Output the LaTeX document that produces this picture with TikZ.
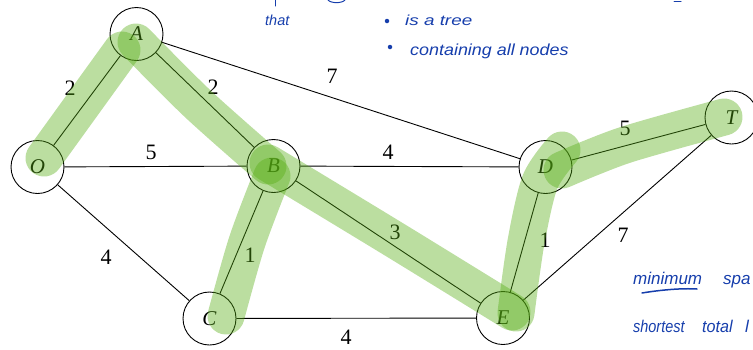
\documentclass[tikz,border=0pt]{standalone}
\usepackage{fontspec}
\setmainfont{Liberation Serif}
\newfontfamily\handfont{Liberation Sans}
\definecolor{hlgreen}{RGB}{85,172,18}
\definecolor{inkblue}{RGB}{22,62,172}
\tikzset{
  vert/.style={circle, draw, line width=0.9pt, minimum size=53pt, inner sep=0pt,
    font=\fontsize{21}{21}\selectfont\itshape},
  edge/.style={line width=0.9pt},
  wt/.style={font=\fontsize{22}{22}\selectfont, inner sep=0pt},
  hl/.style={line width=37pt, line cap=round, line join=round, draw=hlgreen, draw opacity=0.4},
  hand/.style={text=inkblue, font=\handfont\itshape, inner sep=0pt, anchor=base west},
  ink/.style={draw=inkblue, line width=1pt, line cap=round},
  inkdot/.style={circle, fill=inkblue, inner sep=0pt, minimum size=4.5pt}
}
\begin{document}
\begin{tikzpicture}[x=1pt,y=-1pt]
\clip (0,0) rectangle (753,349);
\useasboundingbox (0,0) rectangle (753,349);
% vertices
\node[vert] (O) at (37.5,167) {O};
\node[vert] (A) at (136.5,34) {A};
\node[vert] (B) at (273.5,166) {B};
\node[vert] (C) at (209.5,318.5) {C};
\node[vert] (D) at (545.5,167) {D};
\node[vert] (E) at (503,318) {E};
\node[vert] (T) at (731.5,117.5) {T};
% edges
\draw[edge] (O) -- (A);
\draw[edge] (A) -- (B);
\draw[edge] (A) -- (D);
\draw[edge] (O) -- (B);
\draw[edge] (O) -- (C);
\draw[edge] (B) -- (D);
\draw[edge] (B) -- (C);
\draw[edge] (B) -- (E);
\draw[edge] (C) -- (E);
\draw[edge] (D) -- (E);
\draw[edge] (D) -- (T);
\draw[edge] (E) -- (T);
% weights
\node[wt] (wOA) at (70,88) {2};
\node[wt] (wAB) at (213,87) {2};
\node[wt] (wAD) at (332,76) {7};
\node[wt] (wOB) at (151,152) {5};
\node[wt] (wBD) at (388,152) {4};
\node[wt] (wDT) at (625,128) {5};
\node[wt] (wBC) at (250,255) {1};
\node[wt] (wBE) at (395,232) {3};
\node[wt] (wDE) at (545,240) {1};
\node[wt] (wET) at (623,235) {7};
\node[wt] (wOC) at (106,257) {4};
\node[wt] (wCE) at (346,337.5) {4};
% highlight strokes
\draw[hl] (44,158) -- (122,50);
\draw[hl] plot[smooth] coordinates {(136,42) (198,104) (268,166)};
\draw[hl] plot[smooth] coordinates {(268,163) (395,240) (512,312)};
\draw[hl] plot[smooth] coordinates {(226,316) (247,242) (272,176)};
\draw[hl] plot[smooth] coordinates {(516,313) (526,242) (540,182) (562,150)};
\draw[hl] plot[smooth] coordinates {(562,170) (625,145) (724,117)};
% handwritten notes
\node[hand, font=\handfont\itshape\fontsize{14.5}{14.5}\selectfont] (n1) at (265,25) {that};
\node[inkdot] (b1) at (387,21) {};
\node[hand, font=\handfont\itshape\fontsize{14.5}{14.5}\selectfont] (n2) at (405,25) {\scalebox{1.3}[1]{is a tree}};
\node[inkdot] (b2) at (390,47) {};
\node[hand, font=\handfont\itshape\fontsize{16}{16}\selectfont] (n3) at (410,55) {\scalebox{1.12}[1]{containing all nodes}};
\node[hand, font=\handfont\itshape\fontsize{17}{17}\selectfont] (n4) at (633,284) {minimum};
\node[hand, font=\handfont\itshape\fontsize{17}{17}\selectfont] (n5) at (723,284) {spa};
\node[hand, font=\handfont\itshape\fontsize{17}{17}\selectfont] (n6) at (633,332) {\scalebox{0.85}[1]{shortest}};
\node[hand, font=\handfont\itshape\fontsize{17}{17}\selectfont] (n7) at (702,332) {\scalebox{0.95}[1]{total}};
\node[hand, font=\handfont\itshape\fontsize{17}{17}\selectfont] (n8) at (745,332) {l};
\draw[ink, line width=1.5pt] (642,293) .. controls (660,290) and (682,288) .. (697,289);
\draw[ink] (275,0) -- (275,6);
\draw[ink] (328,0) .. controls (331,3.5) and (342,3.5) .. (345,0);
\draw[ink] (674,1) -- (681,1);
\end{tikzpicture}
\end{document}
